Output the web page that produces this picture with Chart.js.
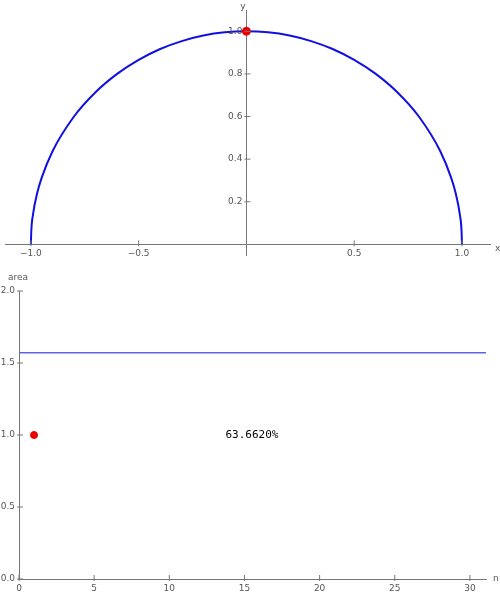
<!DOCTYPE html>
<html><head><meta charset="utf-8">
<script src="https://cdn.jsdelivr.net/npm/chart.js@4"></script>
<style>
body{margin:0;background:#fff;width:500px;height:599px;overflow:hidden;position:relative}
.box{position:absolute;left:0;width:500px}
</style></head><body>
<div class="box" style="top:0;height:260px"><canvas id="circleChart"></canvas></div>
<div class="box" style="top:270px;height:329px"><canvas id="areaChart"></canvas></div>
<script>
// semicircle
const circleX = [-1, -0.998, -0.99, -0.97, -0.95, -0.9, -0.8, -0.7, -0.6, -0.5, -0.4, -0.3, -0.2, -0.1, 0,
                 0.1, 0.2, 0.3, 0.4, 0.5, 0.6, 0.7, 0.8, 0.9, 0.95, 0.97, 0.99, 0.998, 1];
const circleY = [0, 0.063, 0.141, 0.243, 0.312, 0.436, 0.6, 0.714, 0.8, 0.866, 0.917, 0.954, 0.98, 0.995, 1,
                 0.995, 0.98, 0.954, 0.917, 0.866, 0.8, 0.714, 0.6, 0.436, 0.312, 0.243, 0.141, 0.063, 0];
const topPoint = [{ x: 0, y: 1 }];
const topXTicks = [-1, -0.5, 0.5, 1];
const topYTicks = [0.2, 0.4, 0.6, 0.8, 1.0];

const areaLevel = 1.5708;
const areaPoints = [{ x: 1, y: 1 }];
const areaXTicks = [0, 5, 10, 15, 20, 25, 30];
const areaYTicks = [0, 0.5, 1, 1.5, 2];
const ratioText = '63.6620%';

const gray = '#777';
const fmt = v => v.toFixed(1).replace('-', '\u2212');

function axisOpts(extra) {
    return Object.assign({
        type: 'linear',
        border: { color: gray },
        grid: { drawOnChartArea: false, drawTicks: false },
        ticks: { display: false }
    }, extra);
}

// tick marks, tick labels and free text drawn by hand on the axes
const labelPlugin = {
    id: 'labels',
    afterDraw(chart, args, opts) {
        const c = chart.ctx, sx = chart.scales.x, sy = chart.scales.y;
        const ax = sx.getPixelForValue(0), ay = sy.getPixelForValue(0);
        c.save();
        c.strokeStyle = gray;
        c.lineWidth = 1;
        c.font = '9px DejaVu Sans';
        c.fillStyle = '#555';
        c.textBaseline = 'top';
        c.textAlign = 'center';
        for (const v of opts.xTicks) {
            const p = sx.getPixelForValue(v);
            c.beginPath(); c.moveTo(p, ay - 4); c.lineTo(p, ay + 2); c.stroke();
            c.fillText(opts.xFmt(v), p, ay + 5);
        }
        c.textBaseline = 'middle';
        c.textAlign = 'right';
        for (const v of opts.yTicks) {
            const p = sy.getPixelForValue(v);
            c.beginPath(); c.moveTo(ax - 2, p); c.lineTo(ax + 4, p); c.stroke();
            c.fillText(fmt(v), ax - 4, p);
        }
        for (const t of opts.items) {
            c.font = t.font || '9px DejaVu Sans';
            c.fillStyle = t.color || '#555';
            c.textAlign = t.align || 'left';
            let x = t.px, y = t.py;
            if (t.dx !== undefined) x = sx.getPixelForValue(t.dx);
            if (t.dy !== undefined) y = sy.getPixelForValue(t.dy);
            c.fillText(t.text, x, y);
        }
        c.restore();
    }
};

new Chart(document.getElementById('circleChart'), {
    type: 'scatter',
    data: {
        datasets: [
            { data: topPoint, backgroundColor: '#e00', borderColor: '#e00', pointRadius: 4 },
            { data: circleX.map((x, i) => ({ x, y: circleY[i] })), showLine: true, borderColor: '#1010e0',
              borderWidth: 2, pointRadius: 0, cubicInterpolationMode: 'monotone' }
        ]
    },
    options: {
        responsive: true, maintainAspectRatio: false, animation: false,
        layout: { padding: { left: 0, right: 10, top: 10, bottom: 0 } },
        plugins: {
            legend: { display: false }, tooltip: { enabled: false },
            labels: {
                xTicks: topXTicks, yTicks: topYTicks, xFmt: fmt,
                items: [
                    { text: 'x', px: 495, py: 249 },
                    { text: 'y', px: 243, py: 7, align: 'center' }
                ]
            }
        },
        scales: {
            x: axisOpts({ min: -1.12, max: 1.13, position: { y: 0 } }),
            y: axisOpts({ min: -0.05, max: 1.1, position: { x: 0 } })
        }
    },
    plugins: [labelPlugin]
});

new Chart(document.getElementById('areaChart'), {
    type: 'scatter',
    data: {
        datasets: [
            { data: areaPoints, backgroundColor: '#e00', borderColor: '#e00', pointRadius: 3.5 },
            { data: [{ x: 0, y: areaLevel }, { x: 31.07, y: areaLevel }], showLine: true,
              borderColor: '#6060e8', borderWidth: 1.5, pointRadius: 0 }
        ]
    },
    options: {
        responsive: true, maintainAspectRatio: false, animation: false,
        layout: { padding: { left: 19, right: 14, top: 21, bottom: 20 } },
        plugins: {
            legend: { display: false }, tooltip: { enabled: false },
            labels: {
                xTicks: areaXTicks, yTicks: areaYTicks, xFmt: v => String(v),
                items: [
                    { text: 'area', px: 8, py: 8 },
                    { text: 'n', px: 493, py: 309 },
                    { text: ratioText, dx: 15.5, dy: 1.0, align: 'center', color: '#000',
                      font: '11px DejaVu Sans Mono' }
                ]
            }
        },
        scales: {
            x: axisOpts({ min: 0, max: 31.07, position: { y: 0 } }),
            y: axisOpts({ min: 0, max: 2, position: { x: 0 } })
        }
    },
    plugins: [labelPlugin]
});
</script>
</body></html>
